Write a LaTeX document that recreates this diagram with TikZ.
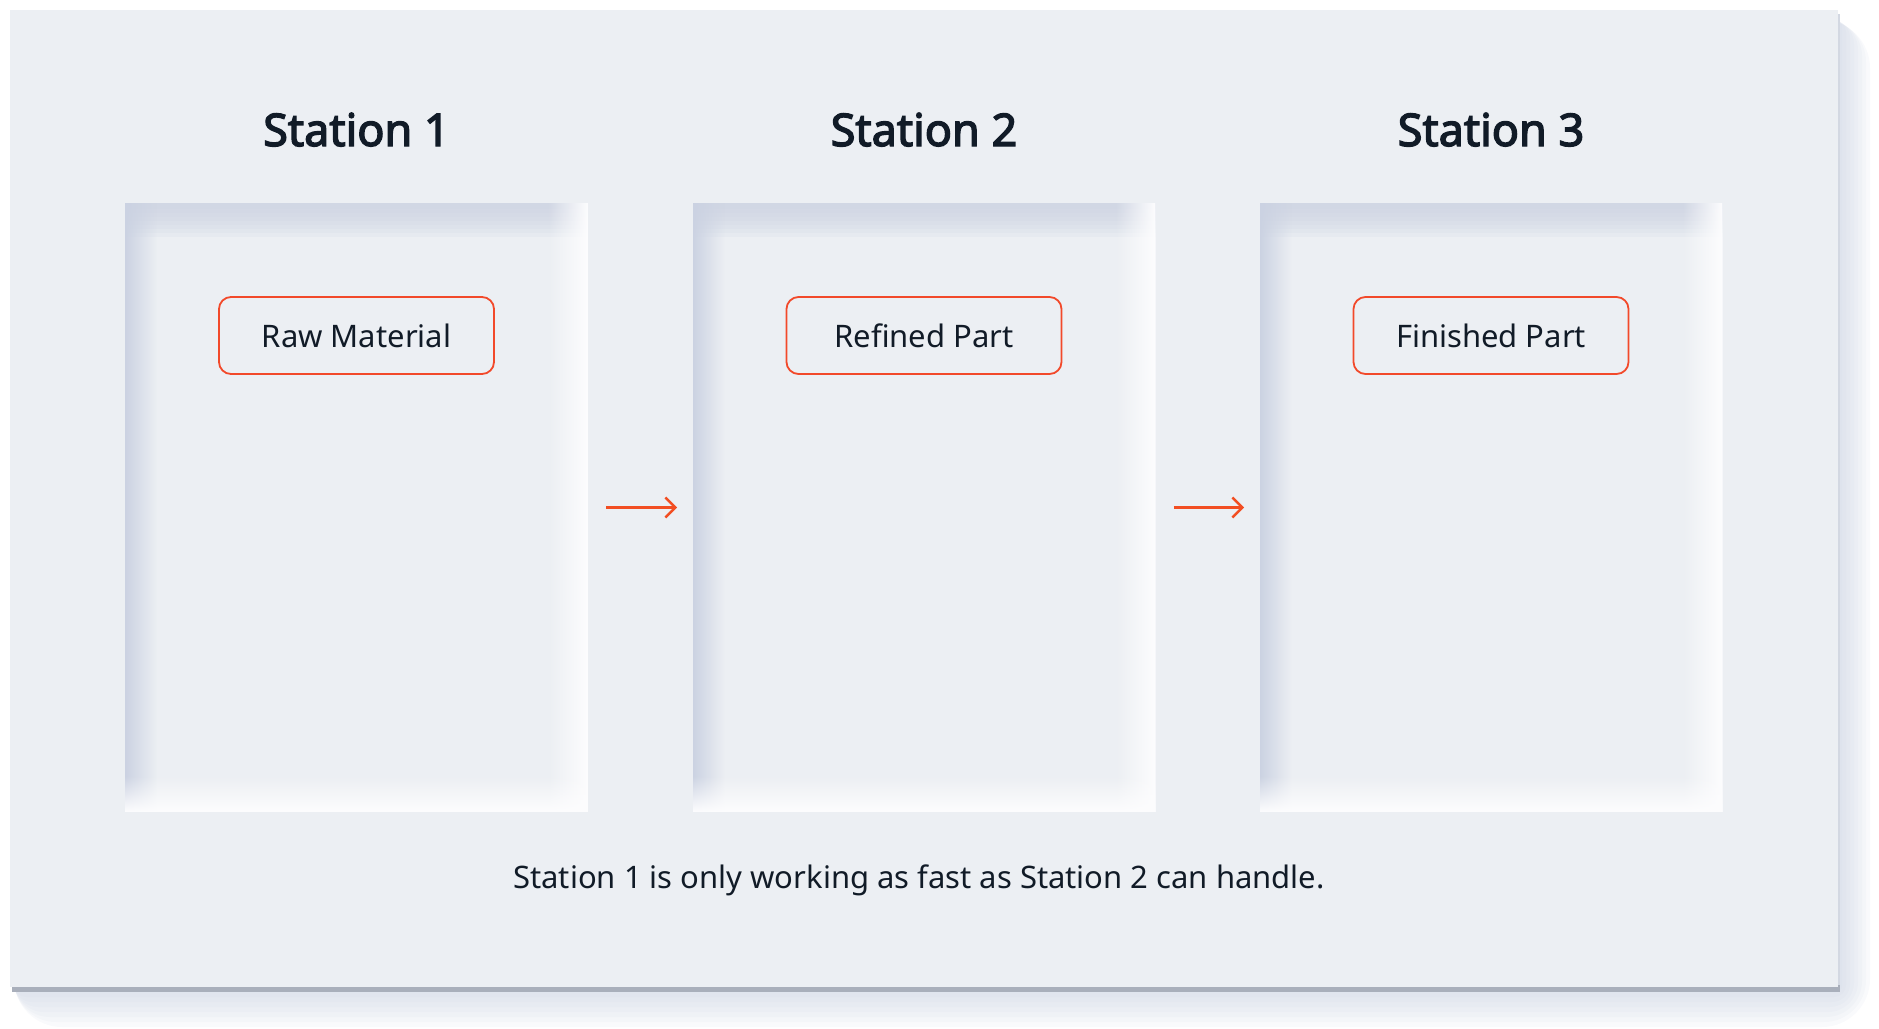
\documentclass[tikz,border=0pt]{standalone}
\usepackage{fontspec}
\setmainfont{Noto Sans}
\IfFontExistsTF{Noto Sans Bold}
  {\newfontfamily\titlefont{Noto Sans Bold}[FakeBold=2]}
  {\newfontfamily\titlefont{Noto Sans}[FakeBold=3]}
\usetikzlibrary{arrows.meta}
\usetikzlibrary{fadings}
\definecolor{panel}{HTML}{ECEFF3}
\definecolor{ink}{HTML}{111B27}
\definecolor{inset}{HTML}{CBD2E2}
\definecolor{glow}{HTML}{FDFDFE}
\definecolor{accent}{HTML}{F2492A}
\definecolor{flow}{HTML}{F24E22}
\definecolor{dropshadow}{HTML}{C6CEDF}
\definecolor{dropedge}{HTML}{A9AFBB}
\definecolor{sideedge}{HTML}{D3D8E2}
\tikzfading[name=from left, left color=transparent!0, right color=transparent!100]
\tikzfading[name=to right, left color=transparent!100, right color=transparent!0]
\tikzfading[name=to bottom, top color=transparent!100, bottom color=transparent!0]
\tikzstyle{station title}=[text=ink, font=\fontsize{22.5}{27}\titlefont, anchor=base]
\tikzstyle{station}=[fill=panel, inner sep=0, minimum width=231.5pt, minimum height=304.5pt,
  path picture={
    \foreach \d in {3, 5, ..., 17}
      \fill[inset, opacity=0.16] (path picture bounding box.north west)
        rectangle ([yshift=-\d pt]path picture bounding box.north east);
    \fill[inset, path fading=from left] (path picture bounding box.north west)
      rectangle ([xshift=16pt]path picture bounding box.south west);
    \fill[glow, path fading=to right] ([xshift=-20pt]path picture bounding box.north east)
      rectangle (path picture bounding box.south east);
    \fill[glow, path fading=to bottom] ([yshift=18pt]path picture bounding box.south west)
      rectangle (path picture bounding box.south east);
  }]
\tikzstyle{part}=[draw=accent, line width=0.9pt, rounded corners=6pt, inner sep=0,
  minimum width=137.5pt, minimum height=38.5pt, text=ink, font=\fontsize{15.5}{19}\selectfont]
\tikzstyle{handoff}=[draw=flow, line width=1.2pt, -{Straight Barb[length=5pt, width=10pt]},
  shorten <=9pt, shorten >=7.5pt]

\begin{document}
\begin{tikzpicture}[x=0.5pt, y=-0.5pt]
  \useasboundingbox (0, 0) rectangle (1879, 1028);

  % card with its shadow
  \foreach \k in {1, ..., 8}
    \fill[dropshadow, opacity=0.1, rounded corners=3*\k] (14, 20)
      rectangle (1838 + 4*\k, 987 + 5*\k);
  \fill[sideedge] (1836, 14) rectangle (1840, 989);
  \fill[dropedge] (12, 985) rectangle (1840, 992);
  \fill[panel] (10, 10) rectangle (1838, 987);

  \node[station] (st1) at (356.5, 507.5) {};
  \node[station] (st2) at (924, 507.5) {};
  \node[station] (st3) at (1491, 507.5) {};

  \node[station title] (title1) at (356.5, 146) {Station 1};
  \node[station title] (title2) at (924, 146) {Station 2};
  \node[station title] (title3) at (1491, 146) {Station 3};

  \node[part] (raw) at (356.5, 335.5) {Raw Material};
  \node[part] (refined) at (924, 335.5) {Refined Part};
  \node[part] (finished) at (1491, 335.5) {Finished Part};

  \draw[handoff] (st1) -- (st2);
  \draw[handoff] (st2) -- (st3);

  \node[text=ink, font=\fontsize{15.5}{19}\selectfont, anchor=base] (note) at (919, 888)
    {Station 1 is only working as fast as Station 2 can handle.};
\end{tikzpicture}
\end{document}
